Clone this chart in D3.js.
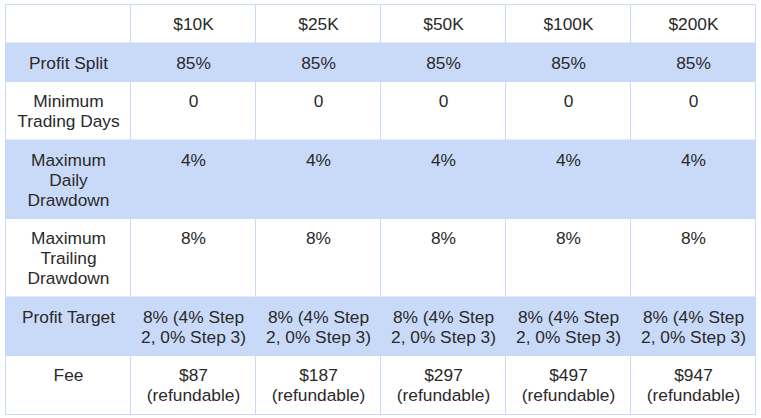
<!DOCTYPE html>
<html>
<head>
<meta charset="utf-8">
<script src="https://cdn.jsdelivr.net/npm/d3@7"></script>
<style>
  html, body { margin: 0; padding: 0; background: #fff; }
  svg { display: block; }
</style>
</head>
<body>
<div id="chart"></div>
<script>
// table data
const tiers = ["$10K", "$25K", "$50K", "$100K", "$200K"];
const rowLabels = ["Profit Split", "Minimum Trading Days", "Maximum Daily Drawdown", "Maximum Trailing Drawdown", "Profit Target", "Fee"];
const profitSplit = ["85%", "85%", "85%", "85%", "85%"];
const minTradingDays = ["0", "0", "0", "0", "0"];
const maxDailyDrawdown = ["4%", "4%", "4%", "4%", "4%"];
const maxTrailingDrawdown = ["8%", "8%", "8%", "8%", "8%"];
const profitTarget = ["8% (4% Step 2, 0% Step 3)", "8% (4% Step 2, 0% Step 3)", "8% (4% Step 2, 0% Step 3)", "8% (4% Step 2, 0% Step 3)", "8% (4% Step 2, 0% Step 3)"];
const fees = ["$87 (refundable)", "$187 (refundable)", "$297 (refundable)", "$497 (refundable)", "$947 (refundable)"];

const W = 761, H = 418;
const fontSize = 17.33;
const lineH = 20;
const padTop = 10.5;
const padX = 7;
const shade = "#c9daf8";
const border = "#c9daf8";
const textColor = "#2a2a2a";

const svg = d3.select("#chart").append("svg")
    .attr("width", W)
    .attr("height", H)
    .style("font-family", "Arial, 'Liberation Sans', sans-serif")
    .style("font-size", fontSize + "px");

const cols = ["label", ...tiers];
const x = d3.scaleBand().domain(cols).range([6, 756]).padding(0);

// rows: header + data rows
const values = [profitSplit, minTradingDays, maxDailyDrawdown, maxTrailingDrawdown, profitTarget, fees];
const rows = [["", ...tiers]].concat(rowLabels.map((l, i) => [l, ...values[i]]));

// measure text to wrap words into lines
const meas = svg.append("text").attr("x", -1000).attr("y", -1000);
function wrap(str, maxW) {
    const words = str.split(" ");
    const lines = [];
    let cur = "";
    words.forEach(w => {
        const test = cur ? cur + " " + w : w;
        meas.text(test);
        if (cur && meas.node().getComputedTextLength() > maxW) {
            lines.push(cur);
            cur = w;
        } else {
            cur = test;
        }
    });
    if (cur) lines.push(cur);
    return lines;
}

const cellLines = rows.map(r => r.map(c => c ? wrap(c, x.bandwidth() - 2 * padX) : []));
meas.remove();

const rowH = cellLines.map(r => Math.max(1, ...r.map(l => l.length)) * lineH + 18.5);
const rowY = [];
let acc = 4;
rowH.forEach(h => { rowY.push(acc); acc += h; });
const bottom = acc;

// row backgrounds
svg.selectAll("rect.row").data(rows).enter().append("rect")
    .attr("class", "row")
    .attr("x", x.range()[0])
    .attr("y", (d, i) => rowY[i])
    .attr("width", x.range()[1] - x.range()[0])
    .attr("height", (d, i) => rowH[i])
    .attr("fill", (d, i) => i % 2 === 1 ? shade : "#fff");

// grid lines
const hLines = rowY.concat([bottom]);
svg.selectAll("line.h").data(hLines).enter().append("line")
    .attr("x1", x.range()[0]).attr("x2", x.range()[1])
    .attr("y1", d => Math.round(d) + 0.5).attr("y2", d => Math.round(d) + 0.5)
    .attr("stroke", border).attr("stroke-width", 1);

const vLines = cols.map(c => x(c)).concat([x.range()[1]]);
svg.selectAll("line.v").data(vLines).enter().append("line")
    .attr("x1", d => Math.round(d) - 0.5).attr("x2", d => Math.round(d) - 0.5)
    .attr("y1", 4).attr("y2", bottom + 1)
    .attr("stroke", border).attr("stroke-width", 1);

// cell text
rows.forEach((r, ri) => {
    r.forEach((c, ci) => {
        const lines = cellLines[ri][ci];
        if (!lines.length) return;
        const t = svg.append("text")
            .attr("text-anchor", "middle")
            .attr("fill", textColor);
        lines.forEach((ln, li) => {
            t.append("tspan")
                .attr("x", x(cols[ci]) + x.bandwidth() / 2)
                .attr("y", rowY[ri] + padTop + 15.7 + li * lineH)
                .text(ln);
        });
    });
});
</script>
</body>
</html>
